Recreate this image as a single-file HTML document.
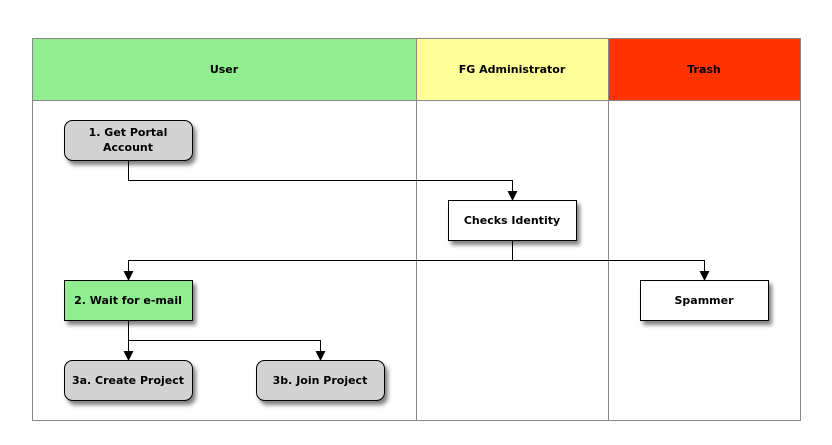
<!DOCTYPE html>
<html><head><meta charset="utf-8"><style>
body{margin:0;background:#fff;width:832px;height:440px;overflow:hidden}
svg text{font-family:"DejaVu Sans","Liberation Sans",sans-serif;font-weight:bold;font-size:11px}
</style></head><body>
<svg width="832" height="440" xmlns="http://www.w3.org/2000/svg">
<defs>
<filter id="sh" x="-20%" y="-20%" width="150%" height="160%"><feGaussianBlur in="SourceAlpha" stdDeviation="2"/><feOffset dx="3" dy="4"/><feComponentTransfer><feFuncA type="linear" slope="0.5"/></feComponentTransfer><feMerge><feMergeNode/><feMergeNode in="SourceGraphic"/></feMerge></filter>
<marker id="ar" markerWidth="10" markerHeight="10" refX="9" refY="5" orient="auto" markerUnits="userSpaceOnUse"><path d="M0,0 L10,5 L0,10 z" fill="#000"/></marker>
</defs>
<rect x="32.5" y="38.5" width="384" height="62" fill="#90ee90" stroke="#888"/>
<rect x="416.5" y="38.5" width="192" height="62" fill="#ffff99" stroke="#888"/>
<rect x="608.5" y="38.5" width="192" height="62" fill="#ff3300" stroke="#888"/>
<rect x="32.5" y="100.5" width="384" height="320" fill="#fff" stroke="#888"/>
<rect x="416.5" y="100.5" width="192" height="320" fill="#fff" stroke="#888"/>
<rect x="608.5" y="100.5" width="192" height="320" fill="#fff" stroke="#888"/>
<text x="224" y="73" text-anchor="middle">User</text>
<text x="512" y="73" text-anchor="middle">FG Administrator</text>
<text x="704" y="73" text-anchor="middle">Trash</text>
<g fill="none" stroke="#000" stroke-width="1">
<path d="M128.5 160 V180.5 H512.5 V200" marker-end="url(#ar)"/>
<path d="M512.5 240 V260.5 H128.5 V280" marker-end="url(#ar)"/>
<path d="M512.5 260.5 H704.5 V280" marker-end="url(#ar)"/>
<path d="M128.5 320 V340.5 V360" marker-end="url(#ar)"/>
<path d="M128.5 340.5 H320.5 V360" marker-end="url(#ar)"/>
</g>
<g stroke="#000" filter="url(#sh)">
<rect x="64.5" y="120.5" width="128" height="40" rx="8" fill="#d3d3d3"/>
<rect x="448.5" y="200.5" width="128" height="40" fill="#fff"/>
<rect x="64.5" y="280.5" width="128" height="40" fill="#90ee90"/>
<rect x="640.5" y="280.5" width="128" height="40" fill="#fff"/>
<rect x="64.5" y="360.5" width="128" height="40" rx="8" fill="#d3d3d3"/>
<rect x="256.5" y="360.5" width="128" height="40" rx="8" fill="#d3d3d3"/>
</g>
<g text-anchor="middle">
<text x="128" y="136">1. Get Portal</text>
<text x="128" y="151">Account</text>
<text x="512" y="224">Checks Identity</text>
<text x="128" y="304">2. Wait for e-mail</text>
<text x="704" y="304">Spammer</text>
<text x="128" y="384">3a. Create Project</text>
<text x="320" y="384">3b. Join Project</text>
</g>
</svg>
</body></html>
